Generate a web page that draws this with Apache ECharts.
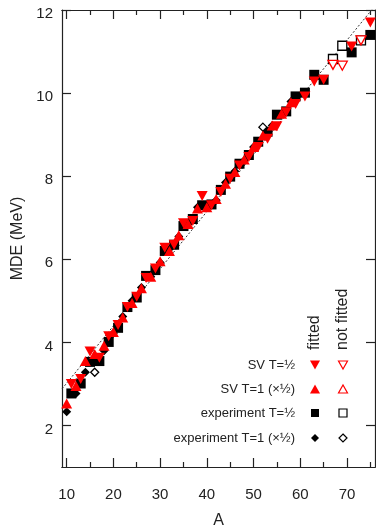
<!DOCTYPE html>
<html>
<head>
<meta charset="utf-8">
<script src="https://cdn.jsdelivr.net/npm/echarts@6/dist/echarts.min.js"></script>
<style>
  html, body { margin: 0; padding: 0; background: #fff; }
  #chart { width: 376px; height: 525px; }
</style>
</head>
<body>
<div id="chart"></div>
<script>
// Mirror displacement energies (MeV) versus mass number A

// experiment, T=1/2 (odd A)
const expHalfA   = [11, 13, 15, 17, 19, 21, 23, 25, 27, 29, 31, 33, 35, 37, 39, 41, 43, 45, 47, 49, 51, 53, 55, 57, 59, 61, 63, 65, 71, 75];
const expHalfMde = [2.77, 3.01, 3.53, 3.55, 4.01, 4.35, 4.85, 5.08, 5.60, 5.74, 6.20, 6.35, 6.80, 6.97, 7.30, 7.32, 7.67, 7.99, 8.30, 8.51, 8.83, 9.07, 9.48, 9.56, 9.92, 10.01, 10.44, 10.32, 10.98, 11.40];
const expHalfNfA   = [67, 69, 73];
const expHalfNfMde = [10.82, 11.14, 11.27];

// experiment, T=1 scaled by 1/2 (even A)
const expOneA   = [10, 12, 14, 18, 20, 22, 24, 26, 28, 30, 32, 34, 36, 38, 40, 42, 44, 46, 48, 50, 54, 56, 58];
const expOneMde = [2.33, 2.77, 3.28, 3.80, 4.22, 4.62, 5.00, 5.32, 5.58, 5.92, 6.25, 6.55, 6.85, 7.25, 7.27, 7.42, 7.85, 8.12, 8.38, 8.70, 9.22, 9.50, 9.80];
const expOneNfA   = [16, 52];
const expOneNfMde = [3.28, 9.18];

// shell-model (SV), T=1/2
const svHalfA   = [11, 13, 15, 17, 19, 21, 23, 25, 27, 29, 31, 33, 35, 37, 39, 41, 43, 45, 47, 49, 51, 53, 55, 57, 59, 61, 63, 65, 71, 75];
const svHalfMde = [3.00, 3.12, 3.78, 3.63, 4.15, 4.42, 4.85, 5.10, 5.55, 5.78, 6.28, 6.35, 6.87, 6.92, 7.52, 7.30, 7.62, 7.94, 8.26, 8.46, 8.70, 8.90, 9.20, 9.54, 9.74, 9.92, 10.28, 10.32, 11.12, 11.70];
const svHalfNfA   = [67, 69, 73];
const svHalfNfMde = [10.68, 10.66, 11.27];

// shell-model (SV), T=1 scaled by 1/2
const svOneA   = [10, 12, 14, 16, 18, 20, 22, 24, 26, 28, 30, 32, 34, 36, 38, 40, 42, 44, 46, 48, 50, 52, 54, 56, 58];
const svOneMde = [2.53, 2.95, 3.55, 3.72, 3.92, 4.25, 4.60, 4.95, 5.30, 5.58, 5.95, 6.20, 6.58, 6.85, 7.22, 7.25, 7.45, 7.82, 8.10, 8.40, 8.70, 8.98, 9.22, 9.50, 9.78];

// straight reference line
const refLineA   = [9, 76];
const refLineMde = [2.88, 12.1];

// axis ticks
const xMajorTicks = [10, 20, 30, 40, 50, 60, 70];
const xMinorTicks = [15, 25, 35, 45, 55, 65, 75];
const yMajorTicks = [2, 4, 6, 8, 10, 12];

// legend rows
const legendNames = ['SV T=\u00bd', 'SV T=1 (\u00d7\u00bd)', 'experiment T=\u00bd', 'experiment T=1 (\u00d7\u00bd)'];

const RED = '#ff0000';
const BLACK = '#000000';
const FONT = '"Liberation Sans", Arial, sans-serif';

const pairs = (xs, ys) => xs.map((x, i) => [x, ys[i]]);

const chart = echarts.init(document.getElementById('chart'), null, { renderer: 'canvas' });

const axisLineStyle = { color: '#222', width: 1.2 };

function xAxisDef(position, ticks, len, showLabel) {
  return {
    type: 'value', min: 9, max: 76, position: position,
    axisLine: { show: true, onZero: false, lineStyle: axisLineStyle },
    axisTick: { show: true, inside: true, length: len, customValues: ticks, lineStyle: { color: '#222', width: 1.2 } },
    axisLabel: showLabel ? { show: true, customValues: ticks, margin: 20, fontSize: 15, color: '#222', fontFamily: FONT } : { show: false },
    splitLine: { show: false }
  };
}
function yAxisDef(position, showLabel) {
  return {
    type: 'value', min: 1, max: 12, position: position,
    axisLine: { show: true, onZero: false, lineStyle: axisLineStyle },
    axisTick: { show: true, inside: true, length: 9, customValues: yMajorTicks, lineStyle: { color: '#222', width: 1.2 } },
    // labels sit slightly below their ticks
    axisLabel: showLabel ? {
      show: true, customValues: yMajorTicks, margin: 9,
      formatter: '{v|{value}}',
      rich: { v: { padding: [8, 0, 0, 0], fontSize: 15, color: '#222', fontFamily: FONT } },
      fontSize: 15, color: '#222', fontFamily: FONT
    } : { show: false },
    splitLine: { show: false }
  };
}

const xAxes = [
  Object.assign(xAxisDef('bottom', xMajorTicks, 9, true), {
    name: 'A', nameLocation: 'middle', nameGap: 46,
    nameTextStyle: { fontSize: 16, color: '#222', fontFamily: FONT }
  }),
  xAxisDef('bottom', xMinorTicks, 5, false),
  xAxisDef('top', xMajorTicks, 9, false),
  xAxisDef('top', xMinorTicks, 5, false)
];
const yAxes = [
  Object.assign(yAxisDef('left', true), {
    name: 'MDE (MeV)', nameLocation: 'middle', nameGap: 36,
    nameTextStyle: { fontSize: 16, color: '#222', fontFamily: FONT }
  }),
  yAxisDef('right', false)
];

const downTri = 'path://M0,0 L10,0 L5,9 Z';

function scatter(name, data, symbol, size, color, hollow, z) {
  return {
    name: name, type: 'scatter', data: data, symbol: symbol, symbolSize: size,
    symbolKeepAspect: false,
    itemStyle: hollow
      ? { color: '#fff', borderColor: color, borderWidth: 1.3, opacity: 1 }
      : { color: color, borderWidth: 0, opacity: 1 },
    z: z, silent: true, animation: false
  };
}

const series = [
  {
    name: 'reference', type: 'line', data: pairs(refLineA, refLineMde),
    showSymbol: false, symbol: 'none', clip: true,
    lineStyle: { color: '#333', width: 1, type: [2, 2] }, z: 1, animation: false
  },
  scatter('experiment T=1/2', pairs(expHalfA, expHalfMde), 'rect', [10, 10], BLACK, false, 2),
  scatter('experiment T=1/2 nf', pairs(expHalfNfA, expHalfNfMde), 'rect', [9, 9], BLACK, true, 2),
  scatter('experiment T=1', pairs(expOneA, expOneMde), 'diamond', [9, 9], BLACK, false, 3),
  scatter('experiment T=1 nf', pairs(expOneNfA, expOneNfMde), 'diamond', [8, 8], BLACK, true, 3),
  scatter('SV T=1', pairs(svOneA, svOneMde), 'triangle', [11, 10], RED, false, 4),
  scatter('SV T=1/2', pairs(svHalfA, svHalfMde), downTri, [11, 10], RED, false, 5),
  scatter('SV T=1/2 nf', pairs(svHalfNfA, svHalfNfMde), downTri, [10, 9], RED, true, 5)
];

// legend block: right-aligned labels, then a "fitted" and a "not fitted" column
const legendRowsY = [365, 389, 413, 438];
const colFitted = 315, colNotFitted = 343, labelRight = 295;

function tri(cx, cy, w, h, up) {
  return up
    ? [[cx - w / 2, cy + h / 2], [cx + w / 2, cy + h / 2], [cx, cy - h / 2]]
    : [[cx - w / 2, cy - h / 2], [cx + w / 2, cy - h / 2], [cx, cy + h / 2]];
}
function diamond(cx, cy, s) {
  return [[cx, cy - s / 2], [cx + s / 2, cy], [cx, cy + s / 2], [cx - s / 2, cy]];
}
const filled = (c) => ({ fill: c, stroke: null });
const hollow = (c) => ({ fill: '#fff', stroke: c, lineWidth: 1.2 });

const legendGraphics = [];
legendNames.forEach((name, i) => {
  legendGraphics.push({
    type: 'text', x: labelRight, y: legendRowsY[i],
    style: { text: name, align: 'right', verticalAlign: 'middle', fontSize: 13, fill: '#222', font: '13px ' + FONT }
  });
});
const ly = legendRowsY;
legendGraphics.push(
  { type: 'polygon', shape: { points: tri(colFitted, ly[0], 10, 9, false) }, style: filled(RED) },
  { type: 'polygon', shape: { points: tri(colNotFitted, ly[0], 9, 8, false) }, style: hollow(RED) },
  { type: 'polygon', shape: { points: tri(colFitted, ly[1], 10, 9, true) }, style: filled(RED) },
  { type: 'polygon', shape: { points: tri(colNotFitted, ly[1], 9, 8, true) }, style: hollow(RED) },
  { type: 'rect', shape: { x: colFitted - 4, y: ly[2] - 4, width: 8, height: 8 }, style: filled(BLACK) },
  { type: 'rect', shape: { x: colNotFitted - 4, y: ly[2] - 4, width: 8, height: 8 }, style: hollow(BLACK) },
  { type: 'polygon', shape: { points: diamond(colFitted, ly[3], 8) }, style: filled(BLACK) },
  { type: 'polygon', shape: { points: diamond(colNotFitted, ly[3], 8) }, style: hollow(BLACK) },
  {
    type: 'text', x: colFitted, y: 350, rotation: Math.PI / 2,
    style: { text: 'fitted', align: 'left', verticalAlign: 'middle', font: '16px ' + FONT, fill: '#222' }
  },
  {
    type: 'text', x: colNotFitted, y: 350, rotation: Math.PI / 2,
    style: { text: 'not fitted', align: 'left', verticalAlign: 'middle', font: '16px ' + FONT, fill: '#222' }
  }
);

chart.setOption({
  animation: false,
  backgroundColor: '#fff',
  grid: { left: 62, right: 1, top: 10, bottom: 58, containLabel: false, outerBoundsMode: 'none' },
  xAxis: xAxes,
  yAxis: yAxes,
  series: series.map((s) => Object.assign(s, { xAxisIndex: 0, yAxisIndex: 0 })),
  graphic: legendGraphics
});
</script>
</body>
</html>
